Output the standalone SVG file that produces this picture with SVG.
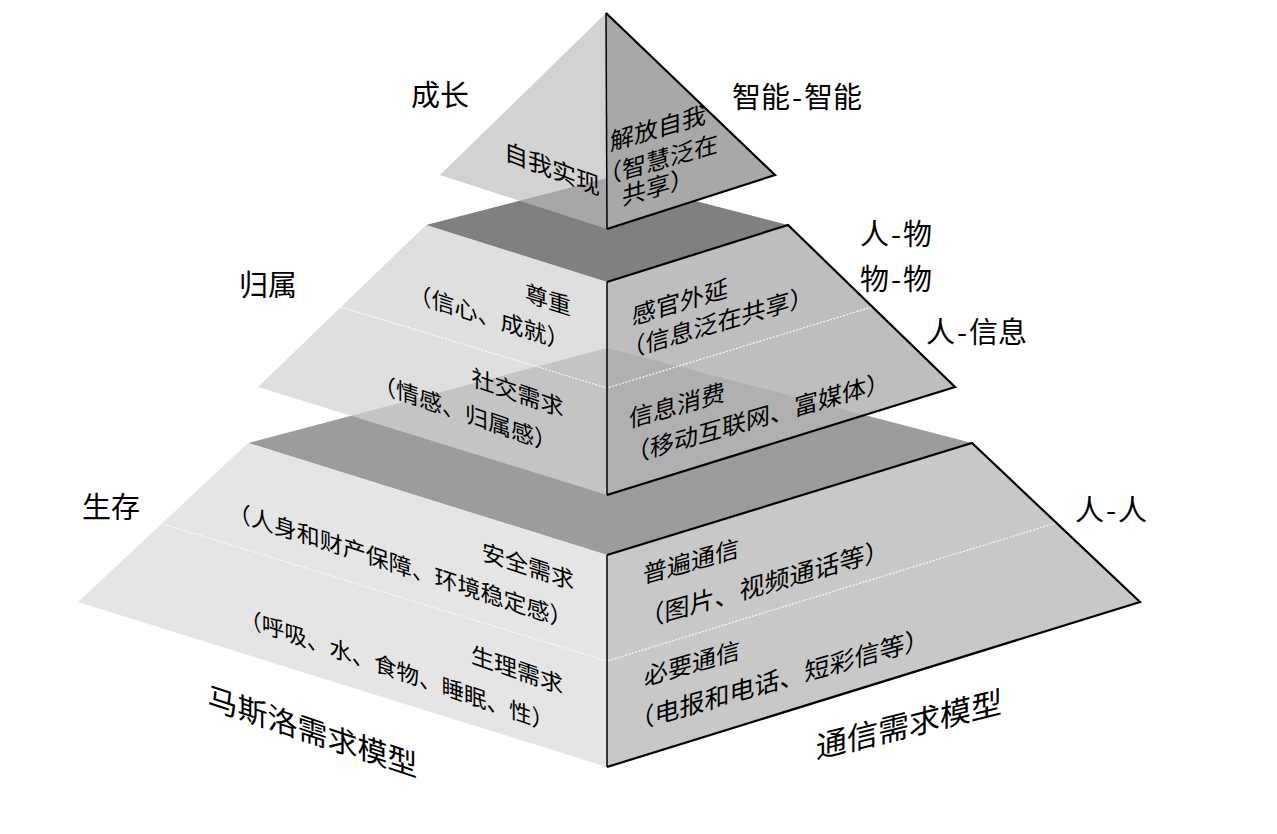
<svg xmlns="http://www.w3.org/2000/svg" width="1277" height="834" viewBox="0 0 1277 834">
<style>
.lbl{font-family:"Noto Sans CJK SC","Noto Sans",sans-serif;font-size:29px;fill:#000}
.t{font-family:"Noto Sans CJK SC","Noto Sans",sans-serif;fill:#000}
.tl{font-size:23px}
.tr{font-size:24px}
.edge{fill:none;stroke:#000;stroke-width:2.2;stroke-linejoin:miter}
.front{stroke:#000;stroke-width:1.5}
.div{fill:none;stroke:#fff;stroke-width:1.2;stroke-dasharray:2 1.5;opacity:0.9}
</style>
<rect width="1277" height="834" fill="#fff"/>

<g id="tier-bottom">
  <polygon points="248,443 607,348 972,443 607,555" fill="#9c9c9c"/>
  <polygon points="248,443 607,555 607,767 78,602" fill="#e5e5e5"/>
  <polygon points="607,555 972,443 1140,602 607,767" fill="#c8c8c8"/>
  <polyline class="div" points="160,523 607,661 1056,523"/>
  <polyline class="edge" points="607,555 972,443 1140,602 607,767"/>
  <line class="front" x1="607" y1="555" x2="607" y2="767"/>
  <g transform="translate(574,0) skewY(18)" class="t tl" text-anchor="end">
    <text x="0" y="589.7">安全需求</text>
    <text x="-1.5" y="630.2">（人身和财产保障、环境稳定感）</text>
  </g>
  <g transform="translate(561,0) skewY(19)" class="t tl" text-anchor="end">
    <text x="2" y="693.4">生理需求</text>
    <text x="-7" y="734.9" style="font-size:22.5px">（呼吸、水、食物、睡眠、性）</text>
  </g>
  <g transform="translate(642,0) skewY(-15.9)" class="t tr">
    <text x="1" y="584.1">普遍通信</text>
    <text x="-2.5" y="627.8" style="font-size:25px">（图片、视频通话等）</text>
    <text x="2" y="686.4">必要通信</text>
    <text x="-12.5" y="727.8" style="font-size:25px">（电报和电话、短彩信等）</text>
  </g>
</g>

<g id="tier-middle">
  <polygon points="426,225 607,178 788,225 607,282" fill="#808080"/>
  <polygon points="426,225 607,282 607,495 258,387" fill="#d3d3d3" fill-opacity="0.73"/>
  <polygon points="607,282 788,225 955,387 607,495" fill="#b3b3b3" fill-opacity="0.86"/>
  <polyline class="div" points="341,307 607,388 872,307"/>
  <polyline class="edge" points="607,282 788,225 955,387 607,495"/>
  <line class="front" x1="607" y1="282" x2="607" y2="495"/>
  <g transform="translate(571,0) skewY(17.7)" class="t tl" text-anchor="end">
    <text x="0" y="315.5">尊重</text>
    <text x="-1.5" y="351.7">（信心、成就）</text>
  </g>
  <g transform="translate(562,0) skewY(19)" class="t tl" text-anchor="end">
    <text x="1.5" y="416.5">社交需求</text>
    <text x="-5" y="455">（情感、归属感）</text>
  </g>
  <g transform="translate(627,0) skewY(-16.4)" class="t tr">
    <text x="5" y="326.4">感官外延</text>
    <text x="-5.5" y="357.9">（信息泛在共享）</text>
  </g>
  <g transform="translate(628,0) skewY(-15.9)" class="t tr">
    <text x="1" y="428.1">信息消费</text>
    <text x="-2" y="463.6">（移动互联网、富媒体）</text>
  </g>
</g>

<g id="tier-top">
  <polygon points="606,13 440,175 607,229" fill="#bababa" fill-opacity="0.66"/>
  <polygon points="606,13 775,175 607,229" fill="#a8a8a8"/>
  <polyline class="edge" points="606,13 775,175 607,229"/>
  <line class="front" x1="606" y1="13" x2="607" y2="229"/>
  <g transform="translate(600,0) skewY(20.8)" class="t tr" text-anchor="end">
    <text x="0" y="195.6">自我实现</text>
  </g>
  <g transform="translate(658,0) skewY(-16.1)" class="t tr" text-anchor="middle">
    <text x="0" y="136.8">解放自我</text>
    <text x="0" y="169">（智慧泛在</text>
    <text x="0" y="195">共享）</text>
  </g>
</g>

<g id="labels">
  <text class="lbl" x="411" y="106">成长</text>
  <text class="lbl" x="239" y="296">归属</text>
  <text class="lbl" x="82" y="518">生存</text>
  <text class="lbl" x="732" y="108">智能<tspan dx="2">-</tspan><tspan dx="2">智能</tspan></text>
  <text class="lbl" x="860" y="245">人<tspan dx="2">-</tspan><tspan dx="2">物</tspan></text>
  <text class="lbl" x="860" y="290">物<tspan dx="2">-</tspan><tspan dx="2">物</tspan></text>
  <text class="lbl" x="926" y="343">人<tspan dx="2">-</tspan><tspan dx="2">信息</tspan></text>
  <text class="lbl" x="1075" y="521">人<tspan dx="2">-</tspan><tspan dx="2">人</tspan></text>
  <g transform="translate(207.5,0) skewY(18.4)"><text class="t" x="0" y="707.5" style="font-size:30px">马斯洛需求模型</text></g>
  <g transform="translate(816,0) skewY(-13.9)"><text class="t" x="0" y="758.8" style="font-size:31px">通信需求模型</text></g>
</g>
</svg>
